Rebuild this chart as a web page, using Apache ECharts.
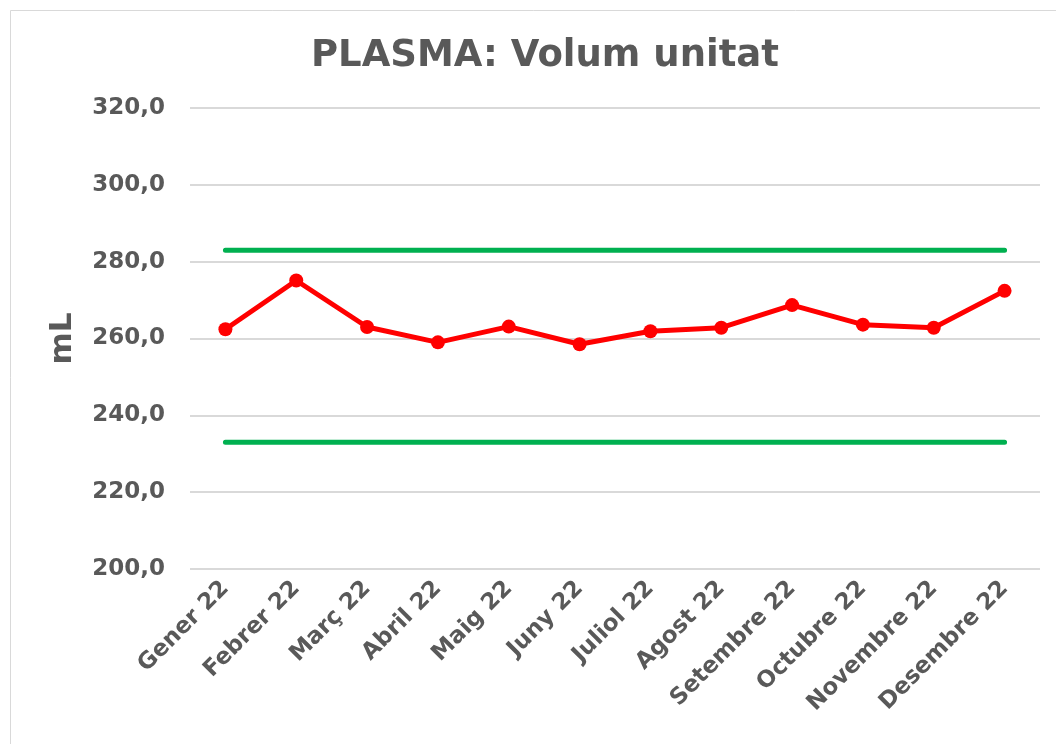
<!DOCTYPE html>
<html>
<head>
<meta charset="utf-8">
<script src="https://cdn.jsdelivr.net/npm/echarts@6/dist/echarts.min.js"></script>
<style>
  html, body { margin: 0; padding: 0; background: #fff; }
  #main { width: 1056px; height: 744px; }
</style>
</head>
<body>
<div id="main"></div>
<script>
// mesos i valors (llegits del gràfic)
const months = ['Gener 22', 'Febrer 22', 'Març 22', 'Abril 22', 'Maig 22', 'Juny 22',
  'Juliol 22', 'Agost 22', 'Setembre 22', 'Octubre 22', 'Novembre 22', 'Desembre 22'];
const volum = [262.4, 275.1, 263.0, 259.0, 263.1, 258.5, 261.9, 262.8, 268.7, 263.6, 262.8, 272.4];
const limitSup = [283, 283, 283, 283, 283, 283, 283, 283, 283, 283, 283, 283];
const limitInf = [233, 233, 233, 233, 233, 233, 233, 233, 233, 233, 233, 233];

const chart = echarts.init(document.getElementById('main'));

const fontFam = 'DejaVu Sans, Verdana, sans-serif';

const option = {
  backgroundColor: '#fff',
  animation: false,
  graphic: [{
    type: 'rect',
    shape: { x: 10.5, y: 10.5, width: 1060, height: 760 },
    style: { fill: 'none', stroke: '#d9d9d9', lineWidth: 1 }
  }],
  title: {
    text: 'PLASMA: Volum unitat',
    left: 306,
    top: 33,
    textStyle: { fontFamily: fontFam, fontSize: 37, fontWeight: 'bold', color: '#595959' }
  },
  grid: { left: 190, right: 16, top: 108, bottom: 175 },
  xAxis: {
    type: 'category',
    data: months,
    boundaryGap: true,
    axisLine: { show: false },
    axisTick: { show: false },
    axisLabel: {
      rotate: 45,
      margin: 16,
      fontFamily: fontFam, fontSize: 23, fontWeight: 'bold', color: '#595959'
    }
  },
  yAxis: {
    type: 'value',
    min: 200, max: 320, interval: 20,
    name: 'mL',
    nameLocation: 'middle',
    nameGap: 112,
    nameTextStyle: { fontFamily: fontFam, fontSize: 31, fontWeight: 'bold', color: '#595959' },
    axisLine: { show: false },
    axisTick: { show: false },
    axisLabel: {
      margin: 25,
      formatter: v => v.toFixed(1).replace('.', ','),
      fontFamily: fontFam, fontSize: 23, fontWeight: 'bold', color: '#595959'
    },
    splitLine: { lineStyle: { color: '#d9d9d9', width: 2 } }
  },
  series: [
    {
      name: 'Límit superior', type: 'line', data: limitSup,
      symbol: 'none', lineStyle: { color: '#00b050', width: 5, cap: 'round' }, z: 2
    },
    {
      name: 'Límit inferior', type: 'line', data: limitInf,
      symbol: 'none', lineStyle: { color: '#00b050', width: 5, cap: 'round' }, z: 2
    },
    {
      name: 'Volum', type: 'line', data: volum,
      symbol: 'circle', symbolSize: 14,
      itemStyle: { color: '#ff0000' },
      lineStyle: { color: '#ff0000', width: 5 }, z: 3
    }
  ]
};

chart.setOption(option);
</script>
</body>
</html>
